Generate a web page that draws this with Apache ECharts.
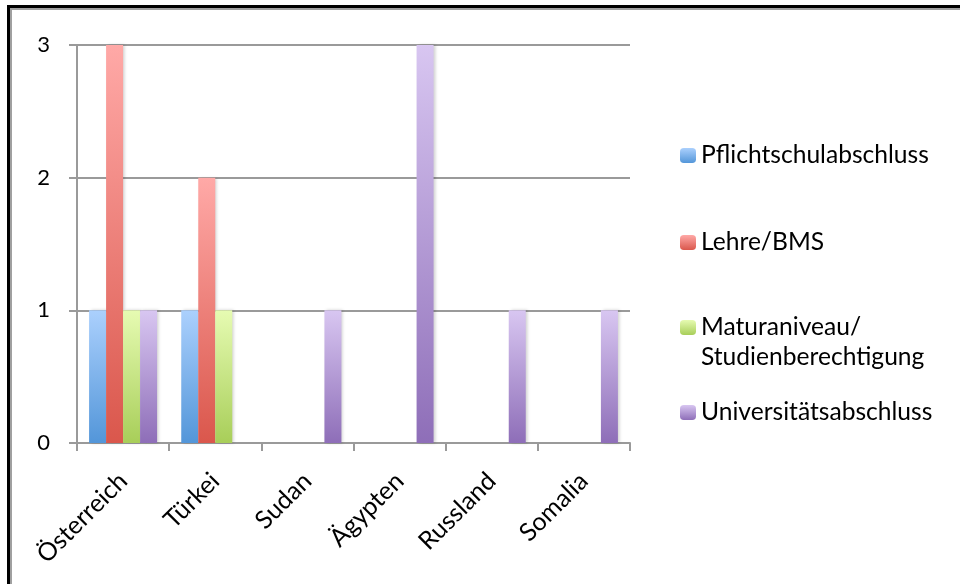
<!DOCTYPE html>
<html>
<head>
<meta charset="utf-8">
<script src="https://cdn.jsdelivr.net/npm/echarts@6/dist/echarts.min.js"></script>
<style>
  html, body { margin: 0; padding: 0; background: #fff; }
  #chart { width: 960px; height: 584px; }
</style>
</head>
<body>
<div id="chart"></div>
<script>
// Herkunftsland und höchster Bildungsabschluss (Anzahl Personen)
const countries = ['Österreich', 'Türkei', 'Sudan', 'Ägypten', 'Russland', 'Somalia'];
const seriesNames = ['Pflichtschulabschluss', 'Lehre/BMS', 'Maturaniveau/ Studienberechtigung', 'Universitätsabschluss'];
const pflichtschule = [1, 1, 0, 0, 0, 0];
const lehreBms = [3, 2, 0, 0, 0, 0];
const matura = [1, 1, 0, 0, 0, 0];
const universitaet = [1, 0, 1, 3, 1, 1];
const yTicks = [0, 1, 2, 3];

const FONT = 'Lato';
const values = [pflichtschule, lehreBms, matura, universitaet];
const gradients = [
  ['#abd0fd', '#5396d9'],
  ['#ffa9a7', '#da574c'],
  ['#e6fbb2', '#a8ce59'],
  ['#d8c6f1', '#8e6eb8']
];

function grad(c) {
  return new echarts.graphic.LinearGradient(0, 0, 0, 1, [
    { offset: 0, color: c[0] },
    { offset: 1, color: c[1] }
  ]);
}

const series = seriesNames.map((name, i) => ({
  name: name,
  type: 'bar',
  data: values[i],
  barWidth: 17,
  barGap: '0%',
  itemStyle: {
    color: grad(gradients[i]),
    shadowColor: 'rgba(0,0,0,0.18)',
    shadowBlur: 3,
    shadowOffsetX: 2
  },
  emphasis: { disabled: true }
}));

// vertical centre of each legend marker
const legendTops = [
  { name: seriesNames[0], center: 158 },
  { name: seriesNames[1], center: 245 },
  { name: seriesNames[2], center: 330, twoLine: true },
  { name: seriesNames[3], center: 415 }
];

const legends = legendTops.map(l => ({
  data: [l.name],
  orient: 'vertical',
  left: 680,
  top: l.twoLine ? l.center - 45 : l.center - 15,
  padding: 0,
  itemWidth: 16,
  itemHeight: 15,
  selectedMode: false,
  formatter: l.twoLine
    ? () => '{sp| }\n{t|Maturaniveau/}\n{t|Studienberechtigung}'
    : '{t|{name}}',
  textStyle: {
    rich: {
      t: { fontFamily: FONT, fontSize: 24.6, lineHeight: 30, color: '#000' },
      sp: { fontFamily: FONT, fontSize: 24.6, lineHeight: 30 }
    }
  }
}));

const chart = echarts.init(document.getElementById('chart'), null, { renderer: 'canvas' });
chart.setOption({
  animation: false,
  backgroundColor: '#fff',
  grid: { left: 77, right: 330, top: 45, bottom: 141, containLabel: false },
  legend: legends,
  xAxis: {
    type: 'category',
    data: countries,
    axisLine: { lineStyle: { color: '#9a9a9a', width: 2 } },
    axisTick: { show: true, length: 8, lineStyle: { color: '#9a9a9a', width: 2 } },
    axisLabel: { rotate: 45, margin: 34, fontFamily: FONT, fontSize: 25, color: '#000' }
  },
  yAxis: {
    type: 'value',
    min: yTicks[0],
    max: yTicks[yTicks.length - 1],
    interval: 1,
    axisLine: { show: true, lineStyle: { color: '#9a9a9a', width: 2 } },
    axisTick: { show: true, length: 8, lineStyle: { color: '#9a9a9a', width: 2 } },
    splitLine: { lineStyle: { color: '#9a9a9a', width: 2 } },
    axisLabel: { margin: 27, fontFamily: FONT, fontSize: 22, color: '#000' }
  },
  graphic: [
    // frame: black edge with a soft grey inner shadow, top and left only
    { type: 'rect', shape: { x: 7, y: 5, width: 953, height: 3 }, style: { fill: '#000' }, z: 100 },
    { type: 'rect', shape: { x: 7, y: 5, width: 3, height: 579 }, style: { fill: '#000' }, z: 100 },
    { type: 'rect', shape: { x: 10, y: 8, width: 950, height: 2 }, style: { fill: '#a0a0a0' }, z: 100 },
    { type: 'rect', shape: { x: 10, y: 8, width: 2, height: 576 }, style: { fill: '#a0a0a0' }, z: 100 }
  ],
  series: series
});
</script>
</body>
</html>
